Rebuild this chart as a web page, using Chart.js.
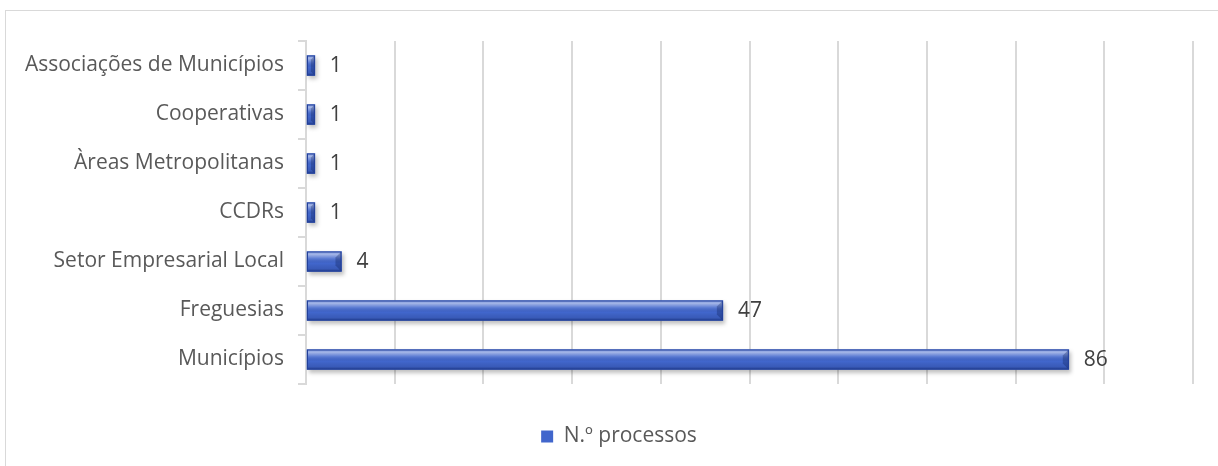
<!DOCTYPE html>
<html>
<head>
<meta charset="utf-8">
<script src="https://cdn.jsdelivr.net/npm/chart.js@4"></script>
<style>
  html, body { margin: 0; padding: 0; background: #fff; overflow: hidden; }
  #wrap { position: relative; width: 1218px; height: 466px; }
  #frame { position: absolute; left: 5px; top: 10px; width: 1240px; height: 500px; border: 1px solid #d9d9d9; }
  canvas { position: absolute; left: 0; top: 0; }
</style>
</head>
<body>
<div id="wrap">
  <div id="frame"></div>
  <canvas id="barChart" width="1218" height="466"></canvas>
</div>
<script>
// categories, top to bottom
const categories = ['Associações de Municípios', 'Cooperativas', 'Àreas Metropolitanas', 'CCDRs',
    'Setor Empresarial Local', 'Freguesias', 'Municípios'];
const processos = [1, 1, 1, 1, 4, 47, 86];
const seriesLabel = 'N.º processos';

const FONT = '"Open Sans", sans-serif';
const FONT_SIZE = 21;

// bevel look + value labels
const bevelPlugin = {
    id: 'bevel',
    beforeDatasetsDraw(chart) {
        const ctx = chart.ctx;
        ctx.save();
        ctx.shadowColor = 'rgba(0,0,0,0.25)';
        ctx.shadowBlur = 4;
        ctx.shadowOffsetX = 2;
        ctx.shadowOffsetY = 3;
    },
    afterDatasetsDraw(chart) {
        const ctx = chart.ctx;
        ctx.restore();
        const meta = chart.getDatasetMeta(0);
        meta.data.forEach((bar, i) => {
            const { x, y, base, height } = bar.getProps(['x', 'y', 'base', 'height'], true);
            const top = y - height / 2;
            const w = x - base;
            ctx.save();
            const g = ctx.createLinearGradient(0, top, 0, top + height);
            g.addColorStop(0, 'rgba(255,255,255,0.35)');
            g.addColorStop(0.15, 'rgba(255,255,255,0.50)');
            g.addColorStop(0.35, 'rgba(255,255,255,0.15)');
            g.addColorStop(0.6, 'rgba(0,0,0,0)');
            g.addColorStop(0.85, 'rgba(0,10,50,0.12)');
            g.addColorStop(1, 'rgba(0,10,50,0.40)');
            ctx.fillStyle = g;
            ctx.fillRect(base, top, w, height);
            // darker right end cap
            const cap = Math.min(6, w / 2);
            ctx.fillStyle = 'rgba(10,25,80,0.30)';
            ctx.beginPath();
            ctx.moveTo(x, top);
            ctx.lineTo(x - cap, top + cap);
            ctx.lineTo(x - cap, top + height - cap);
            ctx.lineTo(x, top + height);
            ctx.closePath();
            ctx.fill();
            ctx.strokeStyle = '#23409a';
            ctx.lineWidth = 1;
            ctx.strokeRect(base + 0.5, top + 0.5, w - 1, height - 1);
            // value label
            ctx.fillStyle = '#404040';
            ctx.font = FONT_SIZE + 'px ' + FONT;
            ctx.textAlign = 'left';
            ctx.textBaseline = 'middle';
            ctx.fillText(String(processos[i]), x + 15, y + 1);
            ctx.restore();
        });
    }
};

// center the legend on the whole canvas
const legendCenter = {
    id: 'legendCenter',
    afterLayout(chart) {
        if (chart.legend) {
            chart.legend.left = 10;
            chart.legend.right = chart.width + 10;
            chart.legend.width = chart.width;
        }
    }
};

const ctxBar = document.getElementById('barChart').getContext('2d');

const barChart = new Chart(ctxBar, {
    type: 'bar',
    data: {
        labels: categories,
        datasets: [{
            label: seriesLabel,
            data: processos,
            backgroundColor: '#4166cc',
            borderWidth: 0,
            barThickness: 20,
        }]
    },
    options: {
        indexAxis: 'y',
        responsive: false,
        animation: false,
        layout: {
            padding: { top: 41, right: 25, bottom: 9, left: 0 }
        },
        plugins: {
            legend: {
                display: true,
                position: 'bottom',
                labels: {
                    boxWidth: 12,
                    boxHeight: 12,
                    padding: 10,
                    color: '#595959',
                    font: { family: FONT, size: FONT_SIZE }
                }
            },
            tooltip: { enabled: false }
        },
        scales: {
            x: {
                min: 0,
                max: 100,
                afterFit(scale) { scale.height = 32; },
                ticks: { display: false, stepSize: 10 },
                grid: {
                    color: '#d9d9d9',
                    lineWidth: 2,
                    drawTicks: false,
                },
                border: { display: false }
            },
            y: {
                afterFit(scale) { scale.width = 306; },
                ticks: {
                    color: '#595959',
                    padding: 14,
                    font: { family: FONT, size: FONT_SIZE }
                },
                grid: {
                    drawOnChartArea: false,
                    drawTicks: true,
                    tickLength: 8,
                    color: '#d9d9d9',
                    lineWidth: 2
                },
                border: { display: true, color: '#d9d9d9', width: 2 }
            }
        }
    },
    plugins: [bevelPlugin, legendCenter]
});
</script>
</body>
</html>
